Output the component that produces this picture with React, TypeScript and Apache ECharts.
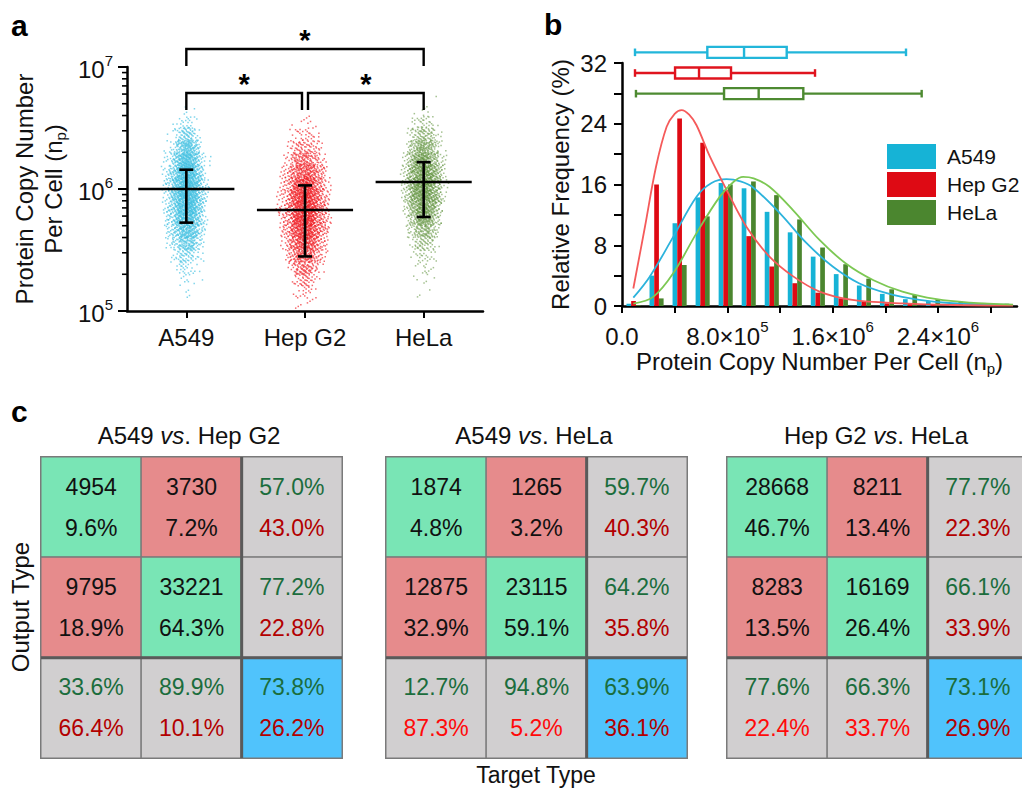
import React, { useEffect, useRef } from 'react';
import * as echarts from 'echarts';

const FONT = '"Liberation Sans", Arial, Helvetica, sans-serif';

// ---------------- Panel a : strip plot (log scale) ----------------
const CELL_LINES = ['A549', 'Hep G2', 'HeLa'];
// log10 bin centres (bin width 0.1) and point counts read from the clouds
const CLOUD_BIN_EXPONENTS = [5.05, 5.15, 5.25, 5.35, 5.45, 5.55, 5.65, 5.75, 5.85, 5.95, 6.05, 6.15, 6.25, 6.35, 6.45, 6.55, 6.65, 6.75];
const CLOUD_A549 = [0, 4, 10, 25, 60, 130, 200, 260, 300, 320, 320, 290, 230, 150, 70, 22, 4, 0];
const CLOUD_HEPG2 = [6, 18, 45, 90, 150, 220, 280, 320, 330, 310, 260, 190, 120, 65, 28, 8, 0, 0];
const CLOUD_HELA = [0, 3, 6, 12, 25, 55, 110, 180, 240, 290, 300, 280, 220, 150, 80, 30, 6, 1];
const MEAN_VALUES = [1.0e6, 6.73e5, 1.14e6];
const ERROR_LOW = [5.3e5, 2.8e5, 5.9e5];
const ERROR_HIGH = [1.44e6, 1.07e6, 1.66e6];
const BRACKET_FROM = [0, 0, 1];
const BRACKET_TO = [2, 1, 2];
const BRACKET_TOP = [1.405e7, 6.12e6, 6.12e6];
const BRACKET_LEG = [1.02e7, 4.45e6, 4.45e6];
const LOG_MINOR_TICKS = [2e5, 3e5, 4e5, 5e5, 6e5, 7e5, 8e5, 9e5, 2e6, 3e6, 4e6, 5e6, 6e6, 7e6, 8e6, 9e6];

// ---------------- Panel b : histogram ----------------
const HIST_BIN_CENTERS = [87500, 262500, 437500, 612500, 787500, 962500, 1137500, 1312500, 1487500, 1662500, 1837500, 2012500, 2187500, 2362500, 2537500, 2712500, 2887500];
const HIST_A549 = [0.3, 4.0, 10.9, 14.3, 16.2, 15.5, 12.4, 9.7, 6.5, 4.2, 2.7, 1.6, 0.9, 0.65, 0.4, 0.25, 0.15];
const HIST_HEPG2 = [0.66, 16.0, 24.7, 21.5, 15.3, 9.2, 5.2, 3.0, 1.75, 1.0, 0.6, 0.35, 0.25, 0.15, 0.1, 0.05, 0.03];
const HIST_HELA = [0.1, 1.0, 5.4, 11.8, 16.0, 16.4, 14.6, 11.4, 7.7, 5.5, 3.6, 2.2, 1.45, 0.9, 0.55, 0.4, 0.3];
const FIT_A549 = [[86000, 1.1], [212000, 3.9], [389000, 9.1], [566000, 14.4], [680000, 16.2], [794000, 16.7], [900000, 16.4], [996000, 15.6], [1200000, 12.2], [1400000, 8.3], [1600000, 5.2], [1800000, 3.0], [2010000, 1.7], [2260000, 0.8], [2510000, 0.36], [2970000, 0.13]];
const FIT_HEPG2 = [[86000, 2.3], [174000, 10.4], [258000, 18.3], [339000, 23.6], [400000, 25.3], [453000, 25.8], [510000, 25.2], [566000, 23.8], [667000, 19.7], [794000, 15.3], [946000, 10.4], [1120000, 6.5], [1300000, 3.9], [1500000, 1.9], [1750000, 0.8], [2130000, 0.35], [2510000, 0.13], [2970000, 0.05]];
const FIT_HELA = [[86000, 0.3], [237000, 1.2], [389000, 4.3], [566000, 9.6], [743000, 14.4], [850000, 16.4], [920000, 17.0], [1000000, 16.8], [1120000, 15.7], [1300000, 12.6], [1500000, 8.7], [1700000, 5.6], [1910000, 3.4], [2130000, 1.9], [2390000, 0.9], [2640000, 0.45], [2970000, 0.17]];
// [min, Q1, median, Q3, max]
const BOX_A549 = [98700, 648000, 927000, 1251000, 2157000];
const BOX_HEPG2 = [98700, 403000, 585000, 828000, 1466000];
const BOX_HELA = [106000, 775000, 1038000, 1377000, 2276000];
const X_TICKS = [0, 400000, 800000, 1200000, 1600000, 2000000, 2400000, 2800000];
const X_LABELS = [0, 800000, 1600000, 2400000];

// ---------------- Panel c : confusion matrices ----------------
const MATRIX_PAIRS = [['A549', 'Hep G2'], ['A549', 'HeLa'], ['Hep G2', 'HeLa']];
const M1_LINE1 = [['4954', '3730', '57.0%'], ['9795', '33221', '77.2%'], ['33.6%', '89.9%', '73.8%']];
const M1_LINE2 = [['9.6%', '7.2%', '43.0%'], ['18.9%', '64.3%', '22.8%'], ['66.4%', '10.1%', '26.2%']];
const M2_LINE1 = [['1874', '1265', '59.7%'], ['12875', '23115', '64.2%'], ['12.7%', '94.8%', '63.9%']];
const M2_LINE2 = [['4.8%', '3.2%', '40.3%'], ['32.9%', '59.1%', '35.8%'], ['87.3%', '5.2%', '36.1%']];
const M3_LINE1 = [['28668', '8211', '77.7%'], ['8283', '16169', '66.1%'], ['77.6%', '66.3%', '73.1%']];
const M3_LINE2 = [['46.7%', '13.4%', '22.3%'], ['13.5%', '26.4%', '33.9%'], ['22.4%', '33.7%', '26.9%']];

// ---------------- styles ----------------
const C_CYAN = '#16b3d6';
const C_RED = '#de0a14';
const C_GREEN = '#4b862f';
const CLOUD_COLORS = ['#3cbee0', '#f01a20', '#5a8e34'];
const CLOUD_OPACITY = [0.65, 0.65, 0.55];
const FIT_COLORS = ['#2cb3dc', '#f55a5a', '#7cc853'];
const BOX_COLORS = ['#22b6da', '#e0141e', '#4d8a31'];
const FILL_GREEN = '#79e5b5';
const FILL_RED = '#e68b8c';
const FILL_GRAY = '#d1cfd0';
const FILL_BLUE = '#50c3fc';
const BOTTOM_RED_STYLE = ['d', 'r', 'r'];
const MATRIX_LEFTS = [41, 386, 727];
const TITLE_X = [189, 534, 876];
const FS = 24;

const frac = (x: number) => x - Math.floor(x);

function cloudSeries(idx: number, counts: number[]) {
  const maxN = Math.max(...counts);
  const maxHW = [28, 32, 28][idx];
  return {
    type: 'custom',
    name: 'cloud' + idx,
    xAxisIndex: 0,
    yAxisIndex: 0,
    clip: false,
    silent: true,
    z: 2,
    data: CLOUD_BIN_EXPONENTS.map((e, i) => [idx, Math.pow(10, e), counts[i]]),
    renderItem: (params: any, api: any) => {
      const cat = api.value(0);
      const v = api.value(1);
      const n = api.value(2);
      if (!n) return null;
      const top = api.coord([cat, v * Math.pow(10, 0.05)]);
      const bot = api.coord([cat, v / Math.pow(10, 0.05)]);
      const hw = maxHW * (0.55 + 0.45 * Math.sqrt(n / maxN));
      const s = params.dataIndex * 0.3183 + idx * 0.211;
      const kids: any[] = [];
      for (let k = 0; k < n; k++) {
        const u = frac(s + k * 0.7548776662);
        const w = frac(s * 1.7 + k * 0.4142135624);
        const q = frac(s * 2.9 + k * 0.7320508076);
        const t = frac(s * 2.3 + k * 0.5698402910);
        const x = top[0] + hw * (u + w + q - 1.5) / 1.5;
        const y = top[1] + t * (bot[1] - top[1]);
        kids.push({
          type: 'rect',
          shape: { x: x - 0.75, y: y - 0.75, width: 1.5, height: 1.5 },
          style: { fill: CLOUD_COLORS[idx], opacity: CLOUD_OPACITY[idx] },
          silent: true,
        });
      }
      return { type: 'group', children: kids };
    },
  };
}

// cell kind: 0 correct, 1 wrong, 2 marginal, 3 overall
function matrixData(m: number, l1: string[][], l2: string[][]) {
  const out: any[] = [];
  for (let r = 0; r < 3; r++) {
    for (let c = 0; c < 3; c++) {
      let kind = 2;
      if (r < 2 && c < 2) kind = r === c ? 0 : 1;
      if (r === 2 && c === 2) kind = 3;
      let s1 = 'k';
      let s2 = 'k';
      if (!(r < 2 && c < 2)) {
        s1 = 'g';
        s2 = r === 2 && c < 2 ? BOTTOM_RED_STYLE[m] : 'd';
      }
      out.push({
        value: [c, r, kind],
        itemStyle: { borderColor: '#7a7a7a', borderWidth: 1.5 },
        label: { formatter: `{${s1}|${l1[r][c]}}\n{${s2}|${l2[r][c]}}` },
      });
    }
  }
  return out;
}

export default function App() {
  const ref = useRef<HTMLDivElement>(null);
  useEffect(() => {
    document.body.style.margin = '0';
    const chart = echarts.init(ref.current as HTMLDivElement, null, { renderer: 'svg' });

    const supRich = {
      m: { fontSize: FS, color: '#111', fontFamily: FONT, lineHeight: 29, verticalAlign: 'bottom' },
      s: { fontSize: 15, color: '#111', fontFamily: FONT, lineHeight: 15, verticalAlign: 'top' },
    };
    const nameRich = {
      t: { fontSize: FS, color: '#111', fontFamily: FONT, lineHeight: 29 },
      sub: { fontSize: 15, color: '#111', fontFamily: FONT, lineHeight: 14, verticalAlign: 'bottom' },
    };
    const cellRich = {
      k: { color: '#111', fontSize: 23, lineHeight: 41, fontFamily: FONT },
      g: { color: '#1b6d3d', fontSize: 23, lineHeight: 41, fontFamily: FONT },
      d: { color: '#b30000', fontSize: 23, lineHeight: 41, fontFamily: FONT },
      r: { color: '#ff0a0a', fontSize: 23, lineHeight: 41, fontFamily: FONT },
    };

    const grids: any[] = [
      { left: 127, top: 67, width: 356, height: 244 },
      { left: 622, top: 63, width: 395, height: 243 },
      { left: 622, top: 42, width: 395, height: 62 },
      ...MATRIX_LEFTS.map((l) => ({ left: l, top: 457, width: 301, height: 301 })),
    ].map((g) => ({ ...g, containLabel: false, outerBoundsMode: 'none' }));

    const axisLine = { show: true, lineStyle: { color: '#000', width: 2.5 } };

    const xAxes: any[] = [
      {
        type: 'category', gridIndex: 0, data: CELL_LINES,
        axisLine, axisTick: { show: true, alignWithLabel: true, length: 7, lineStyle: { color: '#000', width: 2 } },
        axisLabel: { fontSize: FS, color: '#111', fontFamily: FONT, margin: 14 },
        splitLine: { show: false },
      },
      {
        type: 'value', gridIndex: 1, min: 0, max: 3000000, interval: 400000,
        axisLine,
        axisTick: { show: true, length: 7, lineStyle: { color: '#000', width: 2 }, customValues: X_TICKS },
        axisLabel: {
          customValues: X_LABELS, margin: 13, fontSize: FS, color: '#111', fontFamily: FONT,
          formatter: (v: number) => {
            if (v === 0) return '{m|0.0}';
            if (v % 800000 !== 0) return '';
            const e = Math.floor(Math.log10(v) + 1e-9);
            const m = v / Math.pow(10, e);
            return `{m|${m.toFixed(1)}×10}{s|${e}}`;
          },
          rich: supRich,
        },
        splitLine: { show: false },
        name: '{t|Protein Copy Number Per Cell (n}{sub|p}{t|)}',
        nameLocation: 'middle', nameGap: 41,
        nameTextStyle: { fontSize: FS, color: '#111', fontFamily: FONT, rich: nameRich },
      },
      { type: 'value', gridIndex: 2, min: 0, max: 3000000, show: false },
      ...[3, 4, 5].map((g) => ({ type: 'category', gridIndex: g, data: ['0', '1', '2'], show: false })),
    ];

    const yAxes: any[] = [
      {
        type: 'log', gridIndex: 0, min: 100000, max: 10000000, logBase: 10,
        axisLine, axisTick: { show: true, length: 9, lineStyle: { color: '#000', width: 2 } },
        axisLabel: {
          margin: 14,
          formatter: (v: number) => `{m|10}{s|${Math.round(Math.log10(v))}}`,
          rich: supRich,
        },
        splitLine: { show: false },
        name: '{t|Protein Copy Number}\n{t|Per Cell (n}{sub|p}{t|)}',
        nameLocation: 'middle', nameGap: 59, nameRotate: 90,
        nameTextStyle: { fontSize: FS, color: '#111', fontFamily: FONT, lineHeight: 29, rich: nameRich },
      },
      {
        type: 'value', gridIndex: 1, min: 0, max: 32, interval: 4,
        axisLine, axisTick: { show: true, length: 8, lineStyle: { color: '#000', width: 2 } },
        axisLabel: {
          fontSize: FS, color: '#111', fontFamily: FONT, margin: 15,
          formatter: (v: number) => (v % 8 === 0 ? String(v) : ''),
        },
        splitLine: { show: false },
        name: 'Relative Frequency (%)', nameLocation: 'middle', nameGap: 50, nameRotate: 90,
        nameTextStyle: { fontSize: FS, color: '#111', fontFamily: FONT },
      },
      { type: 'category', gridIndex: 2, data: CELL_LINES, inverse: true, show: false },
      ...[3, 4, 5].map((g) => ({ type: 'category', gridIndex: g, data: ['0', '1', '2'], inverse: true, show: false })),
    ];

    const series: any[] = [
      cloudSeries(0, CLOUD_A549),
      cloudSeries(1, CLOUD_HEPG2),
      cloudSeries(2, CLOUD_HELA),
      {
        type: 'custom', name: 'meanbars', xAxisIndex: 0, yAxisIndex: 0, clip: false, z: 5, silent: true,
        data: CELL_LINES.map((_, i) => [i, MEAN_VALUES[i], ERROR_LOW[i], ERROR_HIGH[i]]),
        renderItem: (params: any, api: any) => {
          const cat = api.value(0);
          const m = api.coord([cat, api.value(1)]);
          const lo = api.coord([cat, api.value(2)]);
          const hi = api.coord([cat, api.value(3)]);
          const band = api.coord([1, api.value(1)])[0] - api.coord([0, api.value(1)])[0];
          const half = band * 0.405;
          const cap = 7;
          const st = { stroke: '#000', lineWidth: 2.6 };
          return {
            type: 'group',
            children: [
              { type: 'line', shape: { x1: m[0] - half, y1: m[1], x2: m[0] + half, y2: m[1] }, style: st },
              { type: 'line', shape: { x1: m[0], y1: lo[1], x2: m[0], y2: hi[1] }, style: st },
              { type: 'line', shape: { x1: m[0] - cap, y1: lo[1], x2: m[0] + cap, y2: lo[1] }, style: st },
              { type: 'line', shape: { x1: m[0] - cap, y1: hi[1], x2: m[0] + cap, y2: hi[1] }, style: st },
            ],
          };
        },
      },
      {
        type: 'custom', name: 'brackets', xAxisIndex: 0, yAxisIndex: 0, clip: false, z: 5, silent: true,
        data: BRACKET_FROM.map((f, i) => [f, BRACKET_TOP[i], BRACKET_TO[i], BRACKET_LEG[i]]),
        renderItem: (params: any, api: any) => {
          const a = api.value(0);
          const b = api.value(2);
          const pa = api.coord([a, api.value(1)]);
          const pb = api.coord([b, api.value(1)]);
          const leg = api.coord([a, api.value(3)])[1];
          const x1 = pa[0] + (a === 1 ? 3 : 0);
          const x2 = pb[0] - (b === 1 ? 3 : 0);
          const y = pa[1];
          const st = { stroke: '#000', lineWidth: 2.4, fill: 'none' };
          return {
            type: 'group',
            children: [
              { type: 'polyline', shape: { points: [[x1, leg], [x1, y], [x2, y], [x2, leg]] }, style: st },
              {
                type: 'text', x: (x1 + x2) / 2, y: y - 9,
                style: { text: '*', fontSize: 29, fontWeight: 'bold', fontFamily: FONT, fill: '#000', align: 'center', verticalAlign: 'middle' },
              },
            ],
          };
        },
      },
      {
        type: 'custom', name: 'minorTicks', xAxisIndex: 0, yAxisIndex: 0, clip: false, z: 5, silent: true,
        data: LOG_MINOR_TICKS.map((v) => [0, v]),
        renderItem: (params: any, api: any) => {
          const y = api.coord([0, api.value(1)])[1];
          const x0 = params.coordSys.x;
          return { type: 'line', shape: { x1: x0 - 5, y1: y, x2: x0, y2: y }, style: { stroke: '#000', lineWidth: 1.6 } };
        },
      },
      // histogram bars
      ...[
        ['A549', HIST_A549, C_CYAN],
        ['Hep G2', HIST_HEPG2, C_RED],
        ['HeLa', HIST_HELA, C_GREEN],
      ].map(([name, vals, color]: any) => ({
        type: 'bar', name, xAxisIndex: 1, yAxisIndex: 1, barWidth: 4.7, barGap: '0%',
        itemStyle: { color }, silent: true, z: 2,
        data: HIST_BIN_CENTERS.map((x, i) => [x, vals[i]]),
      })),
      // fitted curves
      ...[FIT_A549, FIT_HEPG2, FIT_HELA].map((d, i) => ({
        type: 'line', name: 'fit' + i, xAxisIndex: 1, yAxisIndex: 1, smooth: 0.35,
        symbol: 'none', silent: true, z: 4,
        lineStyle: { color: FIT_COLORS[i], width: 1.8 },
        data: d,
      })),
      // box plots above histogram
      {
        type: 'custom', name: 'boxes', xAxisIndex: 2, yAxisIndex: 2, clip: false, z: 5, silent: true,
        data: [BOX_A549, BOX_HEPG2, BOX_HELA].map((b, i) => [i, ...b]),
        encode: { y: 0, x: [1, 2, 3, 4, 5] },
        renderItem: (params: any, api: any) => {
          const row = api.value(0);
          const xs = [1, 2, 3, 4, 5].map((k) => api.coord([api.value(k), row])[0]);
          const y = api.coord([api.value(1), row])[1];
          const c = BOX_COLORS[row];
          const h = 11;
          const cap = 3.8;
          const st = { stroke: c, lineWidth: 2.4 };
          return {
            type: 'group',
            children: [
              { type: 'line', shape: { x1: xs[0], y1: y, x2: xs[1], y2: y }, style: st },
              { type: 'line', shape: { x1: xs[3], y1: y, x2: xs[4], y2: y }, style: st },
              { type: 'line', shape: { x1: xs[0], y1: y - cap, x2: xs[0], y2: y + cap }, style: st },
              { type: 'line', shape: { x1: xs[4], y1: y - cap, x2: xs[4], y2: y + cap }, style: st },
              { type: 'rect', shape: { x: xs[1], y: y - h / 2, width: xs[3] - xs[1], height: h }, style: { fill: '#fff', stroke: c, lineWidth: 2.4 } },
              { type: 'line', shape: { x1: xs[2], y1: y - h / 2, x2: xs[2], y2: y + h / 2 }, style: st },
            ],
          };
        },
      },
    ];

    const heatmapStart = series.length;
    [[M1_LINE1, M1_LINE2], [M2_LINE1, M2_LINE2], [M3_LINE1, M3_LINE2]].forEach(([a, b], m) => {
      series.push({
        type: 'heatmap', name: 'matrix' + m, xAxisIndex: 3 + m, yAxisIndex: 3 + m, silent: true,
        label: { show: true, fontFamily: FONT, fontSize: 23, rich: cellRich },
        emphasis: { disabled: true },
        data: matrixData(m, a, b),
      });
    });
    [0, 1, 2].forEach((m) => {
      series.push({
        type: 'custom', name: 'sep' + m, xAxisIndex: 3 + m, yAxisIndex: 3 + m, clip: false, z: 6, silent: true,
        data: [[0, 0]],
        renderItem: (params: any, api: any) => {
          const a = api.coord([1, 1]);
          const b = api.coord([2, 2]);
          const bx = (a[0] + b[0]) / 2;
          const by = (a[1] + b[1]) / 2;
          const cs = params.coordSys;
          const st = { stroke: '#5a5a5a', lineWidth: 3 };
          return {
            type: 'group',
            children: [
              { type: 'line', shape: { x1: bx, y1: cs.y, x2: bx, y2: cs.y + cs.height }, style: st },
              { type: 'line', shape: { x1: cs.x, y1: by, x2: cs.x + cs.width, y2: by }, style: st },
            ],
          };
        },
      });
    });

    const titleRich = {
      n: { fontSize: FS, fontFamily: FONT, fill: '#111', color: '#111' },
      i: { fontSize: FS, fontFamily: FONT, fontStyle: 'italic', fill: '#111', color: '#111' },
    };
    const panelLabel = (t: string, x: number, y: number) => ({
      type: 'text', x, y,
      style: { text: t, fontSize: 30, fontWeight: 'bold', fontFamily: FONT, fill: '#000', verticalAlign: 'middle' },
    });

    const graphic: any[] = [
      panelLabel('a', 11, 25),
      panelLabel('b', 544, 24),
      panelLabel('c', 11, 411),
      ...MATRIX_PAIRS.map((p, i) => ({
        type: 'text', x: TITLE_X[i], y: 435,
        style: {
          text: `{n|${p[0]} }{i|vs}{n|. ${p[1]}}`, rich: titleRich,
          fontSize: FS, fontFamily: FONT, fill: '#111', align: 'center', verticalAlign: 'middle',
        },
      })),
      {
        type: 'text', x: 20.5, y: 607, rotation: Math.PI / 2,
        style: { text: 'Output Type', fontSize: FS, fontFamily: FONT, fill: '#111', align: 'center', verticalAlign: 'middle' },
      },
      {
        type: 'text', x: 536, y: 775,
        style: { text: 'Target Type', fontSize: 23, fontFamily: FONT, fill: '#111', align: 'center', verticalAlign: 'middle' },
      },
    ];

    chart.setOption({
      animation: false,
      backgroundColor: '#ffffff',
      textStyle: { fontFamily: FONT },
      grid: grids,
      xAxis: xAxes,
      yAxis: yAxes,
      legend: {
        data: ['A549', 'Hep G2', 'HeLa'],
        orient: 'vertical', left: 887, top: 144, padding: 0,
        itemWidth: 49, itemHeight: 25, itemGap: 3, icon: 'rect', selectedMode: false,
        textStyle: { fontSize: 21, color: '#111', fontFamily: FONT, padding: [0, 0, 0, 6] },
      },
      visualMap: {
        type: 'piecewise', show: false, dimension: 2,
        seriesIndex: [heatmapStart, heatmapStart + 1, heatmapStart + 2],
        pieces: [
          { value: 0, color: FILL_GREEN },
          { value: 1, color: FILL_RED },
          { value: 2, color: FILL_GRAY },
          { value: 3, color: FILL_BLUE },
        ],
      },
      graphic,
      series,
    });
    return () => chart.dispose();
  }, []);
  return <div ref={ref} style={{ width: 1022, height: 789 }} />;
}
